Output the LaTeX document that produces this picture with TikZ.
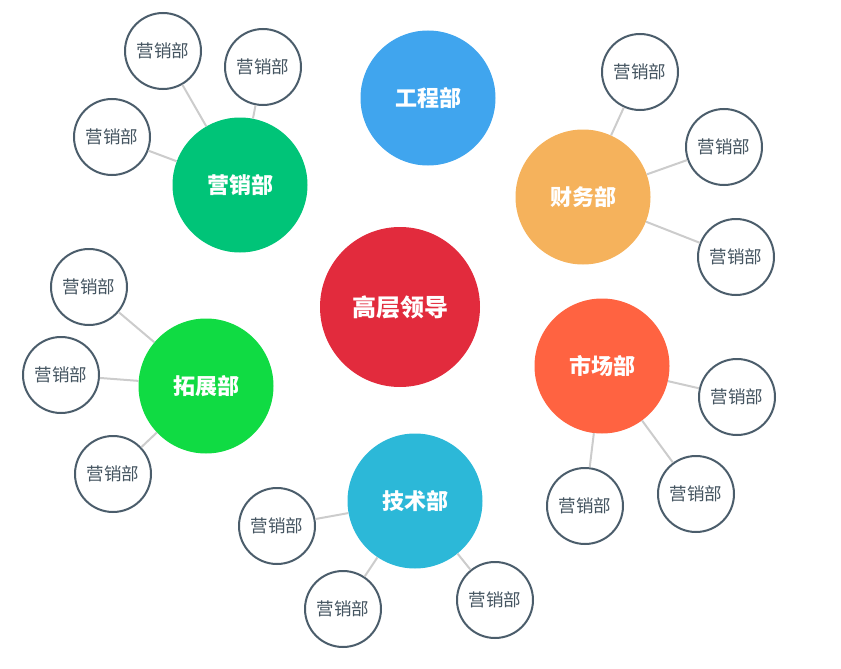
\documentclass[tikz,border=0pt]{standalone}
\usepackage{fontspec}
\usepackage{xcolor}
\usepackage{tikz}
\setmainfont{Noto Sans CJK SC}
\definecolor{leadred}{HTML}{E22B3D}
\definecolor{engblue}{HTML}{40A5EE}
\definecolor{mktgreen}{HTML}{00C478}
\definecolor{finorange}{HTML}{F5B25C}
\definecolor{expgreen}{HTML}{10DB43}
\definecolor{marred}{HTML}{FF6341}
\definecolor{techcyan}{HTML}{2CB8D8}
\definecolor{rimgray}{HTML}{4B5D6B}
\definecolor{linkgray}{HTML}{CCCCCC}

\begin{document}
\begin{tikzpicture}[
  x=1pt, y=-1pt,
  dept/.style={circle, minimum size=135pt, inner sep=0pt, text=white, font=\fontsize{22}{25}\selectfont\bfseries},
  lead/.style={dept, minimum size=160pt, fill=leadred, font=\fontsize{24}{27}\selectfont\bfseries},
  sub/.style={circle, draw=rimgray, line width=2pt, fill=white, minimum size=76pt, inner sep=0pt, text=rimgray!90!black, font=\fontsize{17.5}{20}\selectfont},
  link/.style={draw=linkgray, line width=2pt}]
\useasboundingbox (0,0) rectangle (841,669);
\node[lead] (top) at (400,307) {高层领导};
\node[dept, fill=engblue] (eng) at (428,98) {工程部};
\node[dept, fill=mktgreen] (mkt) at (240,185) {营销部};
\node[dept, fill=finorange] (fin) at (583,197) {财务部};
\node[dept, fill=expgreen] (exp) at (206,386) {拓展部};
\node[dept, fill=marred] (mar) at (602,366) {市场部};
\node[dept, fill=techcyan] (tech) at (415,501) {技术部};
% marketing
\node[sub] (mkt1) at (163,51) {营销部};
\node[sub] (mkt2) at (263,67) {营销部};
\node[sub] (mkt3) at (112,137) {营销部};
% finance
\node[sub] (fin1) at (640,72) {营销部};
\node[sub] (fin2) at (724,147) {营销部};
\node[sub] (fin3) at (736,257) {营销部};
% expansion
\node[sub] (exp1) at (89,287) {营销部};
\node[sub] (exp2) at (61,375) {营销部};
\node[sub] (exp3) at (113,474) {营销部};
% market
\node[sub] (mar1) at (737,397) {营销部};
\node[sub] (mar2) at (696,494) {营销部};
\node[sub] (mar3) at (585,506) {营销部};
% tech
\node[sub] (tech1) at (277,526) {营销部};
\node[sub] (tech2) at (343,609) {营销部};
\node[sub] (tech3) at (495,600) {营销部};
\foreach \g in {mkt,fin,exp,mar,tech}
  \foreach \i in {1,2,3}
    \draw[link] (\g\i) -- (\g);
\end{tikzpicture}
\end{document}
